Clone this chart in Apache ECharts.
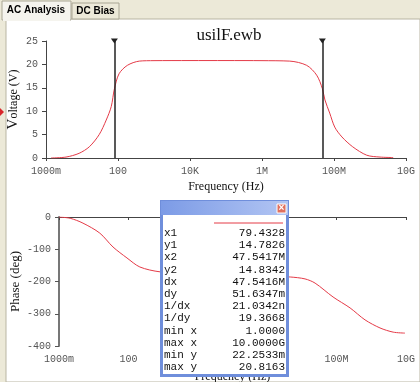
<!DOCTYPE html>
<html>
<head>
<meta charset="utf-8">
<script src="https://cdn.jsdelivr.net/npm/echarts@6/dist/echarts.min.js"></script>
<style>
  html, body { margin: 0; padding: 0; background: #ECE9D8; }
  #chart { width: 420px; height: 382px; }
</style>
</head>
<body>
<div id="chart"></div>
<script>
// AC analysis of usilF.ewb: magnitude + phase vs frequency, with cursor readout box

var freqTicks = [1, 100, 1e4, 1e6, 1e8, 1e10];
var freqTickLabels = ['1000m', '100', '10K', '1M', '100M', '10G'];

// magnitude curve (Hz, V)
var magFreq = [1.38, 3.6, 8.3, 16, 30, 47, 65, 79.4, 107, 182, 390, 1000, 1e4, 1e5, 1e6, 5.9e6, 1.74e7, 3.3e7, 4.75e7, 5.6e7, 7.6e7, 1.05e8, 1.66e8, 3.3e8, 8.1e8, 1.9e9, 4.4e9];
var magVolt = [0, 0.2, 1.0, 2.4, 5.0, 8.1, 11.0, 14.78, 18.0, 19.8, 20.7, 20.8, 20.82, 20.82, 20.8, 20.7, 19.8, 17.7, 14.83, 12.4, 9.6, 6.6, 4.5, 2.4, 0.6, 0.2, 0.1];

// phase curve (Hz, deg)
var phFreq = [1, 2.1, 4.9, 15, 36, 91, 214, 813, 1e4, 1e5, 1e6, 4.6e6, 1.23e7, 2.4e7, 7.9e7, 2.45e8, 6.6e8, 1.78e9, 4.27e9, 9.3e9];
var phDeg = [0, -4, -19, -50, -93, -127, -155, -170, -177, -180, -183, -186, -192, -205, -248, -282, -319, -344, -357, -360];

// cursors
var cursorX = [79.4328, 47.5417e6];
var readoutLabels = ['x1', 'y1', 'x2', 'y2', 'dx', 'dy', '1/dx', '1/dy', 'min x', 'max x', 'min y', 'max y'];
var readoutValues = ['79.4328', '14.7826', '47.5417M', '14.8342', '47.5416M', '51.6347m', '21.0342n', '19.3668', '1.0000', '10.0000G', '22.2533m', '20.8163'];

var RED = '#E43A47';
var MONO = '"Liberation Mono", "DejaVu Sans Mono", monospace';
var SERIF = '"Liberation Serif", "DejaVu Serif", serif';

function zip(a, b) {
    return a.map(function (v, i) { return [v, b[i]]; });
}

function freqLabel(v) {
    for (var i = 0; i < freqTicks.length; i++) {
        if (Math.abs(Math.log10(v) - Math.log10(freqTicks[i])) < 0.01) return freqTickLabels[i];
    }
    return '';
}

function xAxisCfg(gi, gap) {
    return {
        gridIndex: gi,
        type: 'log',
        logBase: 10,
        min: 1,
        max: 1e10,
        interval: 2,
        name: 'Frequency (Hz)',
        nameLocation: 'middle',
        nameGap: gap,
        nameMoveOverlap: false,
        nameTextStyle: { fontFamily: SERIF, fontSize: 12, color: '#111' },
        axisLine: { lineStyle: { color: '#444', width: 1 } },
        axisTick: { length: 3, lineStyle: { color: '#444' } },
        axisLabel: { formatter: freqLabel, fontFamily: MONO, fontSize: 10, color: '#555', margin: 8 },
        splitLine: { show: false },
        minorTick: { show: false }
    };
}

// readout box
var rows = [];
readoutLabels.forEach(function (lab, i) {
    var y = 233 + i * 12.2;
    rows.push({ type: 'text', x: 164, y: y, z: 101,
        style: { text: lab, font: '11px ' + MONO, fill: '#111', textVerticalAlign: 'middle' } });
    rows.push({ type: 'text', x: 285, y: y, z: 101,
        style: { text: readoutValues[i], font: '11px ' + MONO, fill: '#111', textAlign: 'right', textVerticalAlign: 'middle' } });
});

var option = {
    backgroundColor: '#ECE9D8',
    animation: false,
    title: {
        text: 'usilF.ewb',
        left: 224,
        top: 22,
        textAlign: 'center',
        textStyle: { fontFamily: SERIF, fontSize: 17, fontWeight: 'normal', color: '#111' }
    },
    graphic: [
        // window chrome
        { type: 'rect', z: -10, shape: { x: 6, y: 19, width: 414, height: 363 }, style: { fill: '#fff', stroke: '#B9B5A3', lineWidth: 1 } },
        { type: 'rect', z: -9, shape: { x: 72, y: 3, width: 47, height: 16 }, style: { fill: '#ECE9D8', stroke: '#A9A694', lineWidth: 1 } },
        { type: 'rect', z: -8, shape: { x: 2, y: 1, width: 69, height: 19 }, style: { fill: '#F5F4EE', stroke: '#A9A694', lineWidth: 1 } },
        { type: 'rect', z: -7, shape: { x: 3, y: 18, width: 67, height: 3 }, style: { fill: '#F5F4EE' } },
        { type: 'text', x: 36, y: 10, z: -6, style: { text: 'AC Analysis', font: 'bold 10px "Liberation Sans", sans-serif', fill: '#000', textAlign: 'center', textVerticalAlign: 'middle' } },
        { type: 'text', x: 95.5, y: 11, z: -6, style: { text: 'DC Bias', font: 'bold 10px "Liberation Sans", sans-serif', fill: '#000', textAlign: 'center', textVerticalAlign: 'middle' } },
        { type: 'polygon', z: -6, shape: { points: [[0, 108], [4, 112], [0, 116]] }, style: { fill: '#D8262B' } },
        // readout window
        { type: 'rect', z: 100, shape: { x: 160, y: 200, width: 129, height: 177 }, style: { fill: '#6F8EDB' } },
        { type: 'rect', z: 100, shape: { x: 161, y: 201, width: 127, height: 14 },
          style: { fill: new echarts.graphic.LinearGradient(0, 0, 1, 0, [{ offset: 0, color: '#7C9BE6' }, { offset: 1, color: '#B2C5F3' }]) } },
        { type: 'rect', z: 100, shape: { x: 163, y: 215, width: 123, height: 159 }, style: { fill: '#fff' } },
        { type: 'rect', z: 101, shape: { x: 277, y: 204, width: 9, height: 9 }, style: { fill: '#E0705E', stroke: '#fff', lineWidth: 1 } },
        { type: 'text', x: 281.5, y: 208.5, z: 102, style: { text: '×', font: 'bold 10px "Liberation Sans", sans-serif', fill: '#fff', textAlign: 'center', textVerticalAlign: 'middle' } },
        { type: 'line', z: 101, shape: { x1: 214, y1: 223, x2: 283, y2: 223 }, style: { stroke: RED, lineWidth: 1 } }
    ].concat(rows),
    grid: [
        { left: 46, right: 14, top: 41, height: 117, outerBoundsMode: 'none' },
        { left: 59, right: 14, top: 217, height: 129, outerBoundsMode: 'none' }
    ],
    xAxis: [xAxisCfg(0, 23), xAxisCfg(1, 25)],
    yAxis: [
        {
            gridIndex: 0, type: 'value', min: 0, max: 25, interval: 5,
            name: '{b|V}oltage (V)', nameLocation: 'middle', nameGap: 25, nameRotate: 90,
            nameMoveOverlap: false,
            nameTextStyle: { fontFamily: SERIF, fontSize: 12, color: '#111', rich: { b: { fontFamily: SERIF, fontSize: 15, color: '#111' } } },
            axisLine: { show: true, lineStyle: { color: '#444', width: 1 } },
            axisTick: { show: true, length: 4, lineStyle: { color: '#444' } },
            axisLabel: { fontFamily: MONO, fontSize: 10, color: '#555', margin: 8 },
            splitLine: { show: false }
        },
        {
            gridIndex: 1, type: 'value', min: -400, max: 0, interval: 100,
            name: 'Phase (deg)', nameLocation: 'middle', nameGap: 37, nameRotate: 90,
            nameMoveOverlap: false,
            nameTextStyle: { fontFamily: SERIF, fontSize: 13, color: '#111' },
            axisLine: { show: true, lineStyle: { color: '#777', width: 2 } },
            axisTick: { show: true, length: 4, lineStyle: { color: '#555' } },
            axisLabel: { fontFamily: MONO, fontSize: 10, color: '#555', margin: 8 },
            splitLine: { show: false }
        }
    ],
    series: [
        {
            type: 'line', xAxisIndex: 0, yAxisIndex: 0,
            data: zip(magFreq, magVolt),
            smooth: 0.3, showSymbol: false,
            lineStyle: { color: RED, width: 1 },
            markLine: {
                silent: true,
                symbol: ['none', 'triangle'],
                symbolSize: [7, 5],
                symbolRotate: [0, 180],
                label: { show: false },
                lineStyle: { color: '#222', width: 1.5, type: 'solid' },
                data: cursorX.map(function (x) { return { xAxis: x }; })
            }
        },
        {
            type: 'line', xAxisIndex: 1, yAxisIndex: 1,
            data: zip(phFreq, phDeg),
            smooth: 0.3, showSymbol: false,
            lineStyle: { color: RED, width: 1 }
        }
    ]
};

var chart = echarts.init(document.getElementById('chart'), null, { renderer: 'canvas' });
chart.setOption(option);
</script>
</body>
</html>
